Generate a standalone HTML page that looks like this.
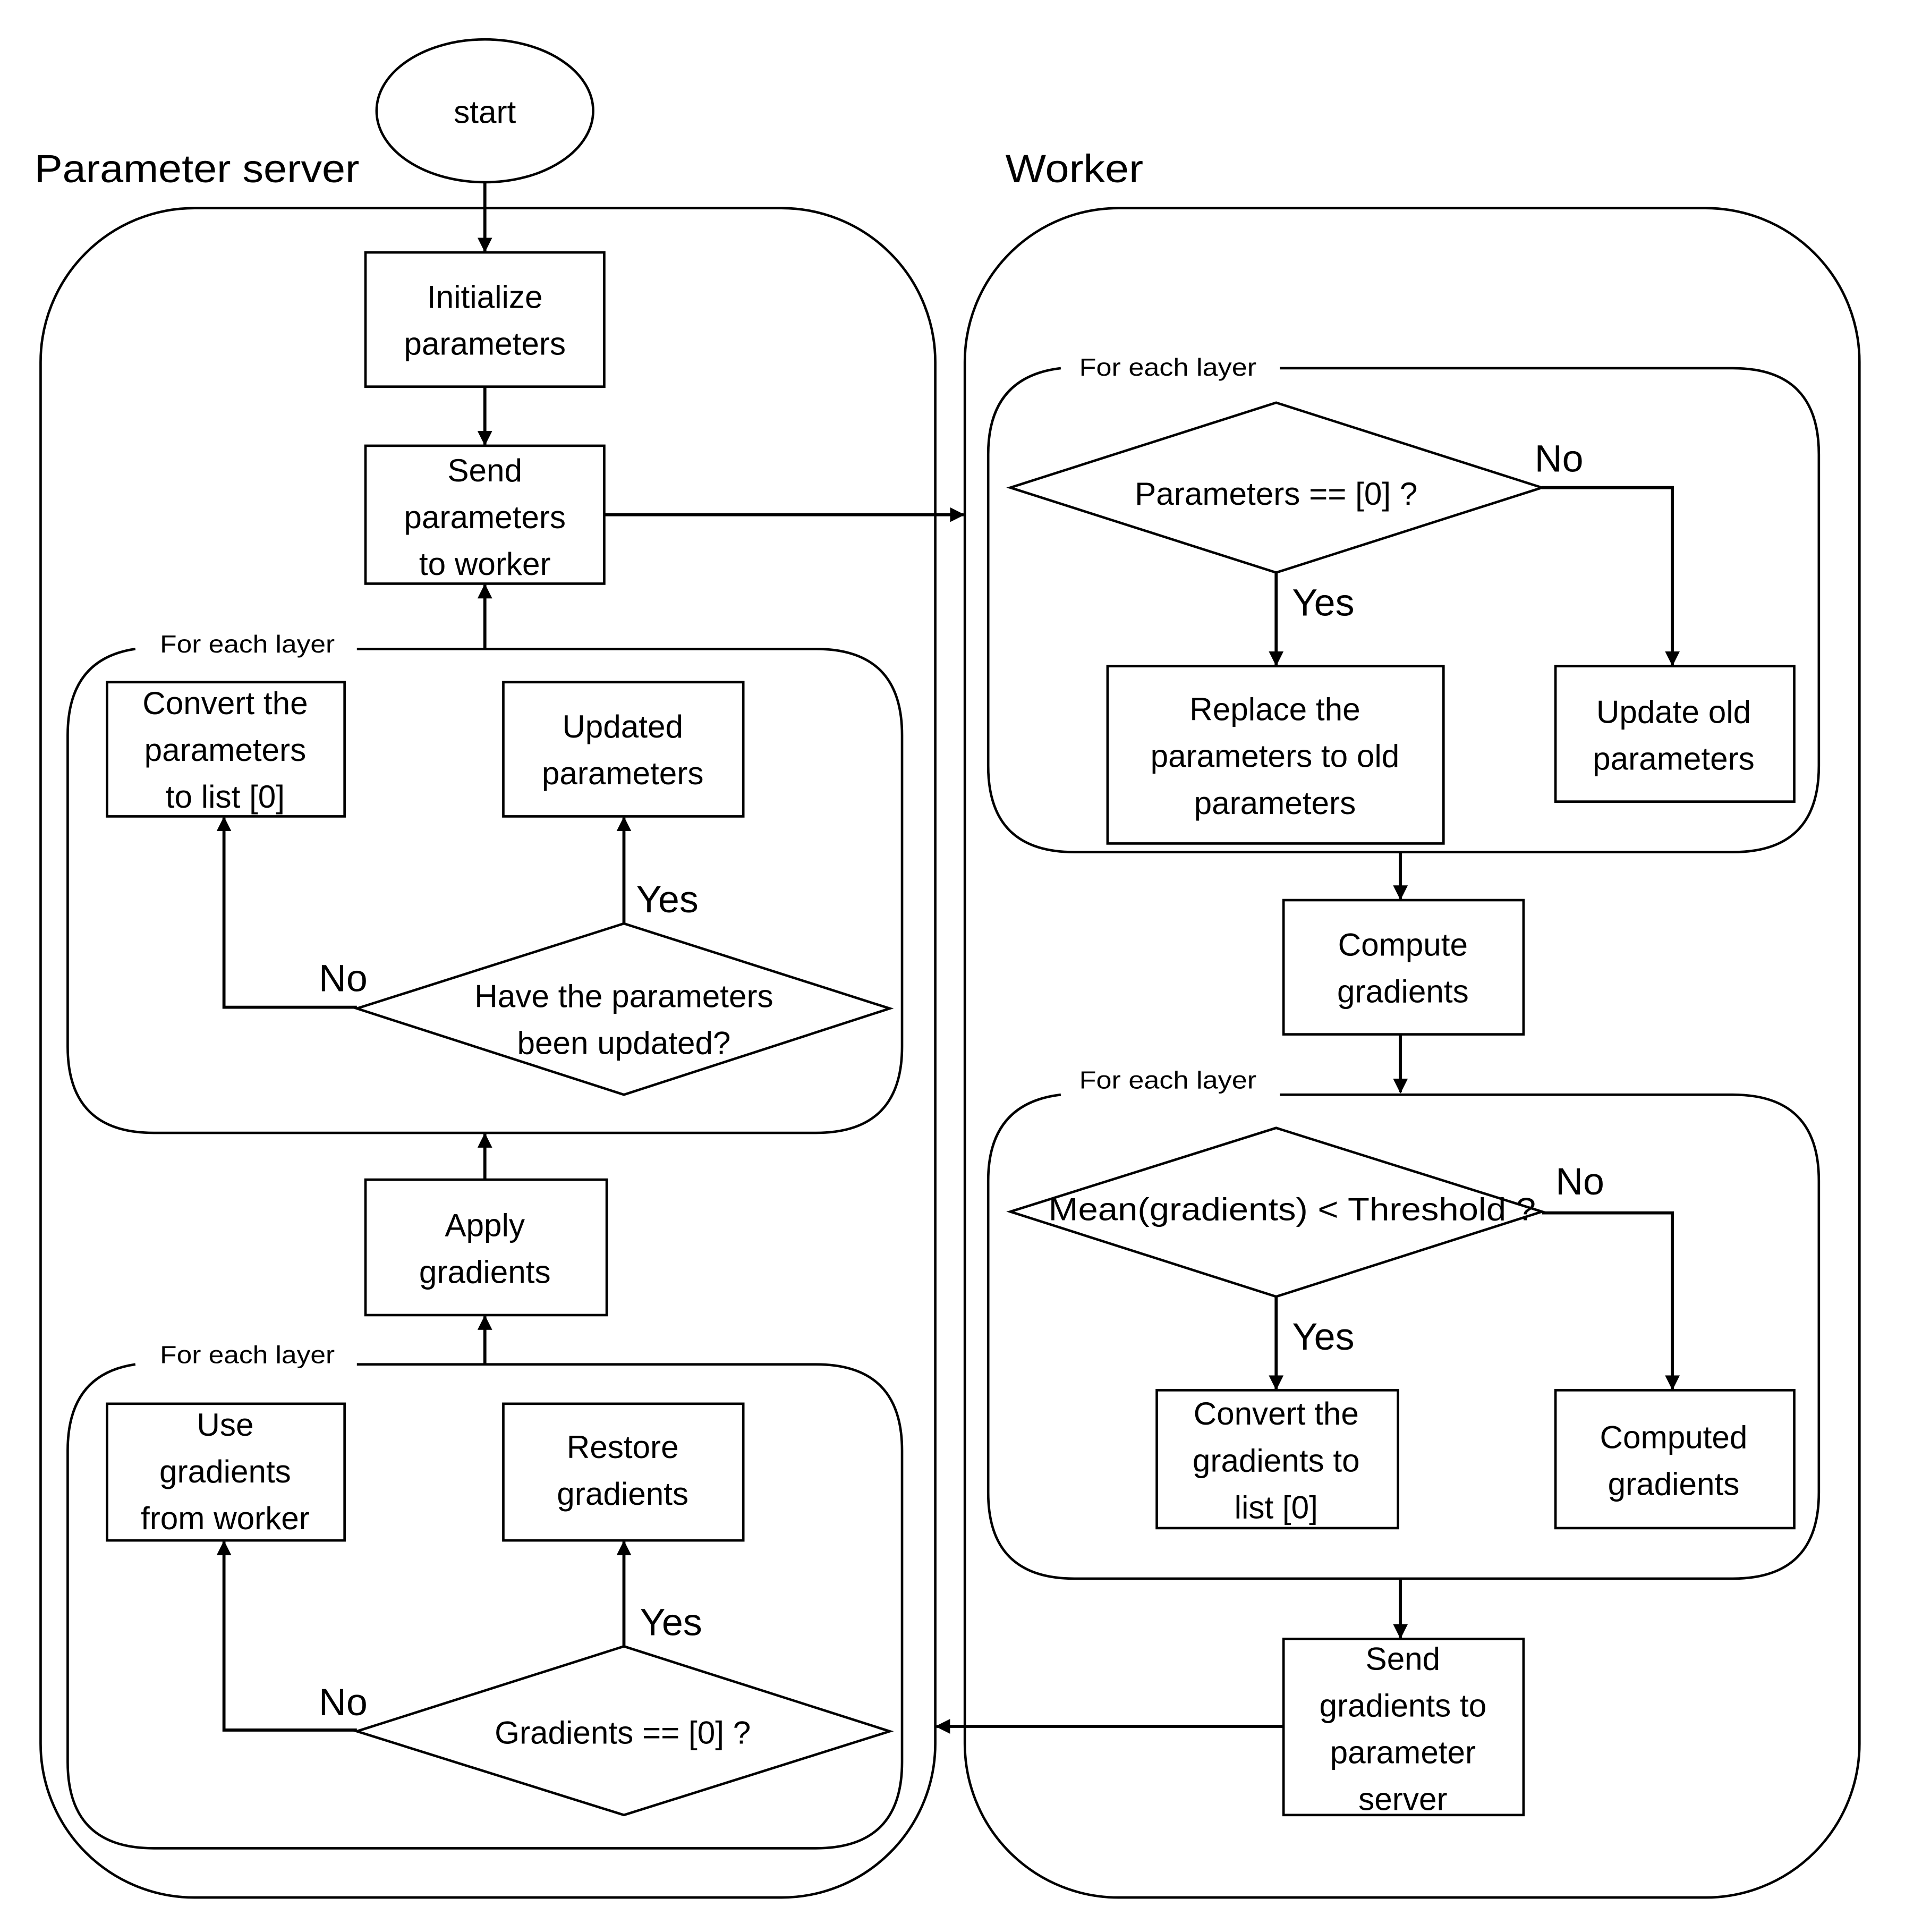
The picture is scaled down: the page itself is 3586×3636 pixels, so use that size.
<!DOCTYPE html>
<html><head><meta charset="utf-8"><style>
html,body{margin:0;padding:0;background:#fff}
svg{display:block}
text{font-family:"Liberation Sans",sans-serif;fill:#000}
</style></head><body>
<svg width="3586" height="3636" viewBox="0 0 1548 1569" preserveAspectRatio="none" xmlns="http://www.w3.org/2000/svg">
<defs><marker id="a" markerWidth="12" markerHeight="12" refX="11" refY="6" orient="auto" markerUnits="userSpaceOnUse"><path d="M0,0 L12,6 L0,12 z" fill="#000"/></marker></defs>
<g fill="none" stroke="#000" stroke-width="2">
<ellipse cx="394" cy="90" rx="88" ry="58"/>
<rect x="33" y="169" width="727" height="1372" rx="125"/>
<rect x="784" y="169" width="727" height="1372" rx="125"/>
<rect x="297" y="205" width="194" height="109"/>
<rect x="297" y="362" width="194" height="112"/>
<path d="M110,527 Q55,535 55,597 L55,850 Q55,920 125,920 L663,920 Q733,920 733,850 L733,597 Q733,527 663,527 L290,527"/>
<rect x="87" y="554" width="193" height="109"/>
<rect x="409" y="554" width="195" height="109"/>
<polygon points="290,819 507,750 723,819 507,889"/>
<rect x="297" y="958" width="196" height="110"/>
<path d="M110,1108 Q55,1116 55,1178 L55,1431 Q55,1501 125,1501 L663,1501 Q733,1501 733,1431 L733,1178 Q733,1108 663,1108 L290,1108"/>
<rect x="87" y="1140" width="193" height="111"/>
<rect x="409" y="1140" width="195" height="111"/>
<polygon points="290,1406 507,1337 723,1406 507,1474"/>
<path d="M862,299 Q803,306 803,369 L803,622 Q803,692 873,692 L1408,692 Q1478,692 1478,622 L1478,369 Q1478,299 1408,299 L1040,299"/>
<polygon points="821,396 1037,327 1253,396 1037,465"/>
<rect x="900" y="541" width="273" height="144"/>
<rect x="1264" y="541" width="194" height="110"/>
<rect x="1043" y="731" width="195" height="109"/>
<path d="M862,889 Q803,896 803,959 L803,1212 Q803,1282 873,1282 L1408,1282 Q1478,1282 1478,1212 L1478,959 Q1478,889 1408,889 L1040,889"/>
<polygon points="821,984 1037,916 1253,984 1037,1053"/>
<rect x="940" y="1129" width="196" height="112"/>
<rect x="1264" y="1129" width="194" height="112"/>
<rect x="1043" y="1331" width="195" height="143"/>
</g>
<g fill="none" stroke="#000" stroke-width="2.5" marker-end="url(#a)">
<path d="M394,148 V204"/>
<path d="M394,314 V361"/>
<path d="M394,527 V475"/>
<path d="M491,418 H783"/>
<path d="M290,818 H182 V664"/>
<path d="M507,750 V664"/>
<path d="M394,958 V921"/>
<path d="M394,1108 V1069"/>
<path d="M290,1405 H182 V1252"/>
<path d="M507,1337 V1252"/>
<path d="M1253,396 H1359 V540"/>
<path d="M1037,465 V540"/>
<path d="M1138,692 V730"/>
<path d="M1138,840 V887"/>
<path d="M1253,985 H1359 V1128"/>
<path d="M1037,1053 V1128"/>
<path d="M1138,1282 V1330"/>
<path d="M1043,1402 H761"/>
</g>
<g font-size="26" text-anchor="middle">
<text x="394" y="100">start</text>
<text x="394" y="250">Initialize</text><text x="394" y="288">parameters</text>
<text x="394" y="391">Send</text><text x="394" y="429">parameters</text><text x="394" y="467">to worker</text>
<text x="183" y="580">Convert the</text><text x="183" y="618">parameters</text><text x="183" y="656">to list [0]</text>
<text x="506" y="599">Updated</text><text x="506" y="637">parameters</text>
<text x="507" y="818">Have the parameters</text><text x="507" y="856">been updated?</text>
<text x="394" y="1004">Apply</text><text x="394" y="1042">gradients</text>
<text x="183" y="1166">Use</text><text x="183" y="1204">gradients</text><text x="183" y="1242">from worker</text>
<text x="506" y="1184">Restore</text><text x="506" y="1222">gradients</text>
<text x="506" y="1416">Gradients == [0] ?</text>
<text x="1037" y="410">Parameters == [0] ?</text>
<text x="1036" y="585">Replace the</text><text x="1036" y="623">parameters to old</text><text x="1036" y="661">parameters</text>
<text x="1360" y="587">Update old</text><text x="1360" y="625">parameters</text>
<text x="1140" y="776">Compute</text><text x="1140" y="814">gradients</text>
<text x="1050" y="991" textLength="396" lengthAdjust="spacingAndGlyphs">Mean(gradients) &lt; Threshold ?</text>
<text x="1037" y="1157">Convert the</text><text x="1037" y="1195">gradients to</text><text x="1037" y="1233">list [0]</text>
<text x="1360" y="1176">Computed</text><text x="1360" y="1214">gradients</text>
<text x="1140" y="1356">Send</text><text x="1140" y="1394">gradients to</text><text x="1140" y="1432">parameter</text><text x="1140" y="1470">server</text>
</g>
<g font-size="32">
<text x="28" y="148" textLength="264" lengthAdjust="spacingAndGlyphs">Parameter server</text>
<text x="817" y="148" textLength="112" lengthAdjust="spacingAndGlyphs">Worker</text>
</g>
<g font-size="31">
<text x="259" y="805">No</text><text x="517" y="741">Yes</text>
<text x="259" y="1393">No</text><text x="520" y="1328">Yes</text>
<text x="1247" y="383">No</text><text x="1050" y="500">Yes</text>
<text x="1264" y="970">No</text><text x="1050" y="1096">Yes</text>
</g>
<g font-size="20">
<text x="130" y="530" textLength="142" lengthAdjust="spacingAndGlyphs">For each layer</text>
<text x="130" y="1107" textLength="142" lengthAdjust="spacingAndGlyphs">For each layer</text>
<text x="877" y="305" textLength="144" lengthAdjust="spacingAndGlyphs">For each layer</text>
<text x="877" y="884" textLength="144" lengthAdjust="spacingAndGlyphs">For each layer</text>
</g>
</svg>
</body></html>
